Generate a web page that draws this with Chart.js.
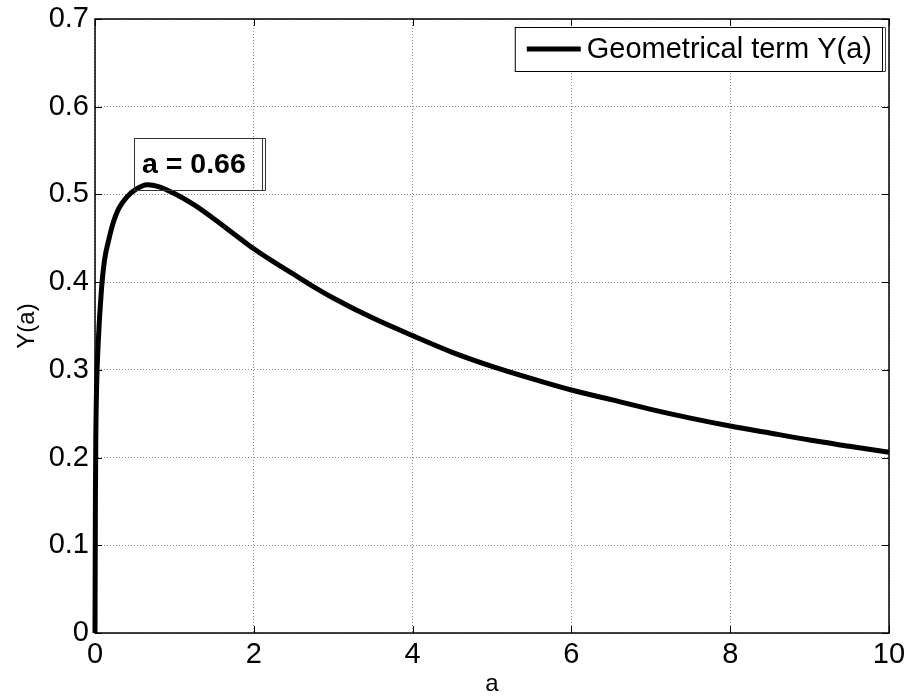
<!DOCTYPE html>
<html>
<head>
<meta charset="utf-8">
<script src="https://cdn.jsdelivr.net/npm/chart.js@4/dist/chart.umd.min.js"></script>
<style>
  html, body { margin: 0; padding: 0; background: #fff; }
  #wrap { width: 908px; height: 697px; }
</style>
</head>
<body>
<div id="wrap"><canvas id="c" width="908" height="697"></canvas></div>
<script>
// ---- data ----
const aValues = [0, 0.005, 0.01, 0.02, 0.04, 0.08, 0.12, 0.17, 0.23, 0.3, 0.4, 0.5, 0.66, 0.8, 1.0, 1.25, 1.5, 1.75, 2.0, 2.25, 2.5, 2.75, 3.0, 3.5, 4.0, 4.5, 5.0, 5.5, 6.0, 6.5, 7.0, 7.5, 8.0, 8.5, 9.0, 9.5, 10];
const yValues = [0, 0.15, 0.22, 0.28, 0.33, 0.39, 0.425, 0.447, 0.468, 0.484, 0.497, 0.505, 0.511, 0.509, 0.501, 0.488, 0.472, 0.455, 0.438, 0.423, 0.409, 0.395, 0.382, 0.359, 0.339, 0.320, 0.304, 0.290, 0.277, 0.266, 0.255, 0.245, 0.236, 0.228, 0.220, 0.213, 0.206];
const xTicks = [0, 2, 4, 6, 8, 10];
const yTicks = [0, 0.1, 0.2, 0.3, 0.4, 0.5, 0.6, 0.7];
const seriesLabel = 'Geometrical term Y(a)';
const xTitle = 'a';
const yTitle = 'Y(a)';
const peakA = 0.66;
const peakY = 0.511;
const peakText = 'a = 0.66';

const FONT = '"Liberation Sans", Arial, sans-serif';
const points = aValues.map((a, i) => ({ x: a, y: yValues[i] }));

const framePlugin = {
  id: 'frame',
  afterDatasetsDraw(chart) {
    const { ctx, chartArea: ca, scales } = chart;
    const xs = scales.x, ys = scales.y;
    ctx.save();
    ctx.strokeStyle = '#000';
    ctx.lineWidth = 1.5;
    ctx.setLineDash([]);
    ctx.strokeRect(ca.left, ca.top, ca.right - ca.left, ca.bottom - ca.top);
    // inward ticks on all four sides
    ctx.lineWidth = 1;
    const tl = 7;
    ctx.beginPath();
    xTicks.forEach(v => {
      const px = Math.round(xs.getPixelForValue(v)) + 0.5;
      ctx.moveTo(px, ca.bottom); ctx.lineTo(px, ca.bottom - tl);
      ctx.moveTo(px, ca.top); ctx.lineTo(px, ca.top + tl);
    });
    yTicks.forEach(v => {
      const py = Math.round(ys.getPixelForValue(v)) + 0.5;
      ctx.moveTo(ca.left, py); ctx.lineTo(ca.left + tl, py);
      ctx.moveTo(ca.right, py); ctx.lineTo(ca.right - tl, py);
    });
    ctx.stroke();

    // legend box (inside plot, top right)
    const lgRight = ca.right - 7, lgTop = ca.top + 8, lgH = 44;
    ctx.font = '29px ' + FONT;
    const tw = ctx.measureText(seriesLabel).width;
    const lgLeft = lgRight - (tw + 72 + 10);
    ctx.fillStyle = '#fff';
    ctx.fillRect(lgLeft, lgTop, lgRight - lgLeft, lgH);
    ctx.strokeStyle = '#000';
    ctx.lineWidth = 1;
    ctx.strokeRect(lgLeft + 0.5, lgTop + 0.5, lgRight - lgLeft, lgH);
    // shadow bracket on the right
    ctx.strokeStyle = '#444';
    ctx.beginPath();
    ctx.moveTo(lgRight + 3.5, lgTop + 0.5); ctx.lineTo(lgRight + 3.5, lgTop + lgH + 0.5);
    ctx.moveTo(lgRight + 0.5, lgTop + 0.5); ctx.lineTo(lgRight + 3.5, lgTop + 0.5);
    ctx.moveTo(lgRight + 0.5, lgTop + lgH + 0.5); ctx.lineTo(lgRight + 3.5, lgTop + lgH + 0.5);
    ctx.stroke();
    const midY = lgTop + lgH / 2;
    ctx.strokeStyle = '#000';
    ctx.lineWidth = 5;
    ctx.beginPath();
    ctx.moveTo(lgLeft + 12, midY); ctx.lineTo(lgLeft + 66, midY);
    ctx.stroke();
    ctx.fillStyle = '#000';
    ctx.textBaseline = 'middle';
    ctx.textAlign = 'left';
    ctx.fillText(seriesLabel, lgLeft + 72, midY + 1);

    // peak annotation
    const px = xs.getPixelForValue(peakA), py = ys.getPixelForValue(peakY);
    const bx = Math.round(px - 13), by = Math.round(py - 46.5), bw = 128, bh = 52;
    ctx.strokeStyle = '#333';
    ctx.lineWidth = 1;
    ctx.strokeRect(bx + 0.5, by + 0.5, bw, bh);
    ctx.beginPath();
    ctx.moveTo(bx + bw + 3.5, by + 0.5); ctx.lineTo(bx + bw + 3.5, by + bh + 0.5);
    ctx.moveTo(bx + bw + 0.5, by + 0.5); ctx.lineTo(bx + bw + 3.5, by + 0.5);
    ctx.moveTo(bx + bw + 0.5, by + bh + 0.5); ctx.lineTo(bx + bw + 3.5, by + bh + 0.5);
    ctx.stroke();
    ctx.font = 'bold 28.5px ' + FONT;
    ctx.fillStyle = '#000';
    ctx.textAlign = 'left';
    ctx.textBaseline = 'alphabetic';
    ctx.fillText(peakText, bx + 8, by + 35);
    ctx.restore();
  }
};

new Chart(document.getElementById('c'), {
  type: 'line',
  data: {
    datasets: [{
      label: seriesLabel,
      data: points,
      borderColor: '#000',
      backgroundColor: '#000',
      borderWidth: 5,
      pointRadius: 0,
      fill: false,
      cubicInterpolationMode: 'monotone',
      clip: false
    }]
  },
  options: {
    responsive: false,
    animation: false,
    devicePixelRatio: 1,
    layout: { padding: { left: 0, top: 19, right: 19, bottom: 0 } },
    plugins: {
      legend: { display: false },
      tooltip: { enabled: false }
    },
    scales: {
      x: {
        type: 'linear',
        min: 0, max: 10,
        afterBuildTicks: s => { s.ticks = xTicks.map(v => ({ value: v })); },
        afterFit: s => { s.height = 64; s.paddingLeft = 0; s.paddingRight = 0; },
        ticks: {
          font: { family: FONT, size: 29 },
          color: '#000',
          padding: 5,
          maxRotation: 0,
          callback: v => String(v)
        },
        grid: { color: 'rgba(0,0,0,0.45)', lineWidth: 1, drawTicks: false },
        border: { display: false, dash: [1, 2] },
        title: {
          display: true, text: xTitle, color: '#000',
          font: { family: FONT, size: 24, lineHeight: 1 },
          padding: { top: 0, bottom: 1 }
        }
      },
      y: {
        type: 'linear',
        min: 0, max: 0.7,
        afterBuildTicks: s => { s.ticks = yTicks.map(v => ({ value: v })); },
        afterFit: s => { s.width = 95; s.paddingTop = 0; s.paddingBottom = 0; },
        ticks: {
          font: { family: FONT, size: 29 },
          color: '#000',
          padding: 6,
          callback: v => String(Number(v.toFixed(1)))
        },
        grid: { color: 'rgba(0,0,0,0.45)', lineWidth: 1, drawTicks: false },
        border: { display: false, dash: [1, 2] },
        title: {
          display: true, text: yTitle, color: '#000',
          font: { family: FONT, size: 24, lineHeight: 1 },
          padding: { top: 15, bottom: 0 }
        }
      }
    }
  },
  plugins: [framePlugin]
});
</script>
</body>
</html>
